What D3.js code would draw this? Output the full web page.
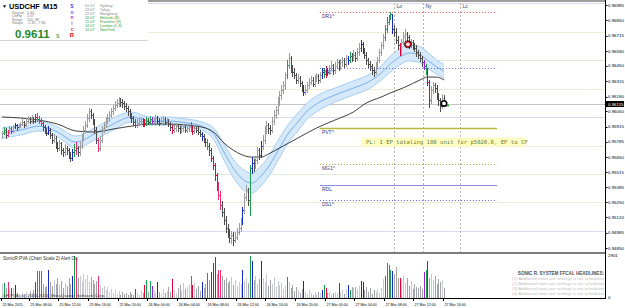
<!DOCTYPE html>
<html>
<head>
<meta charset="utf-8">
<script src="https://cdn.jsdelivr.net/npm/d3@7"></script>
<style>
  body { margin: 0; background: #fff; }
  svg { display: block; font-family: "Liberation Sans", Arial, sans-serif; }
</style>
</head>
<body>
<div id="chart"></div>
<script>
var width = 625,
    height = 308;

// USDCHF M15, 25 Mar 04:15 .. 27 Mar 16:00 (one entry per bar)
var firstOpen = 0.9584;
var closes = [
  0.9586,0.9589,0.9584,0.9587,0.9590,0.9588,0.9591,0.9593,0.9591,0.9592,
  0.9594,0.9596,0.9593,0.9597,0.9598,0.9597,0.9599,0.9597,0.9600,0.9598,
  0.9597,0.9595,0.9591,0.9588,0.9586,0.9589,0.9584,0.9580,0.9582,0.9575,
  0.9573,0.9577,0.9571,0.9569,0.9573,0.9571,0.9567,0.9564,0.9569,0.9571,
  0.9573,0.9569,0.9575,0.9582,0.9589,0.9593,0.9599,0.9605,0.9602,0.9597,
  0.9589,0.9580,0.9573,0.9580,0.9589,0.9593,0.9597,0.9599,0.9602,0.9605,
  0.9608,0.9611,0.9612,0.9615,0.9613,0.9612,0.9610,0.9608,0.9605,0.9602,
  0.9599,0.9596,0.9593,0.9595,0.9597,0.9597,0.9594,0.9595,0.9597,0.9596,
  0.9598,0.9597,0.9597,0.9599,0.9597,0.9595,0.9597,0.9598,0.9596,0.9597,
  0.9594,0.9591,0.9589,0.9590,0.9592,0.9590,0.9588,0.9590,0.9591,0.9589,
  0.9590,0.9592,0.9590,0.9588,0.9590,0.9589,0.9587,0.9585,0.9583,0.9580,
  0.9578,0.9575,0.9571,0.9564,0.9558,0.9549,0.9540,0.9532,0.9523,0.9517,
  0.9510,0.9503,0.9499,0.9494,0.9496,0.9492,0.9495,0.9499,0.9503,0.9508,
  0.9518,0.9530,0.9536,0.9527,0.9555,0.9560,0.9557,0.9562,0.9571,0.9567,
  0.9575,0.9580,0.9589,0.9593,0.9590,0.9589,0.9597,0.9602,0.9606,0.9615,
  0.9619,0.9624,0.9628,0.9637,0.9646,0.9652,0.9643,0.9640,0.9637,0.9633,
  0.9634,0.9630,0.9626,0.9622,0.9624,0.9628,0.9631,0.9633,0.9629,0.9634,
  0.9636,0.9633,0.9637,0.9640,0.9638,0.9641,0.9640,0.9643,0.9646,0.9641,
  0.9645,0.9648,0.9644,0.9648,0.9650,0.9647,0.9652,0.9650,0.9654,0.9652,
  0.9655,0.9652,0.9657,0.9661,0.9664,0.9659,0.9655,0.9650,0.9647,0.9645,
  0.9641,0.9640,0.9645,0.9650,0.9657,0.9663,0.9670,0.9677,0.9684,0.9689,
  0.9691,0.9677,0.9675,0.9668,0.9663,0.9657,0.9666,0.9671,0.9673,0.9670,
  0.9664,0.9666,0.9663,0.9661,0.9657,0.9655,0.9652,0.9648,0.9645,0.9641,
  0.9631,0.9615,0.9624,0.9628,0.9626,0.9619,0.9615,0.9610,0.9617,0.9612
];
var highs = [
  0.9588,0.9591,0.9590,0.9589,0.9592,0.9591,0.9593,0.9595,0.9594,0.9594,
  0.9596,0.9598,0.9597,0.9599,0.9601,0.9600,0.9602,0.9600,0.9603,0.9604,
  0.9601,0.9599,0.9596,0.9593,0.9590,0.9592,0.9590,0.9586,0.9585,0.9583,
  0.9578,0.9580,0.9578,0.9573,0.9576,0.9575,0.9573,0.9569,0.9572,0.9576,
  0.9578,0.9575,0.9578,0.9585,0.9592,0.9597,0.9603,0.9608,0.9607,0.9604,
  0.9598,0.9591,0.9582,0.9583,0.9592,0.9596,0.9600,0.9603,0.9605,0.9608,
  0.9611,0.9614,0.9616,0.9618,0.9617,0.9616,0.9614,0.9612,0.9610,0.9607,
  0.9604,0.9601,0.9598,0.9598,0.9600,0.9600,0.9599,0.9598,0.9600,0.9599,
  0.9601,0.9600,0.9599,0.9602,0.9601,0.9599,0.9600,0.9601,0.9600,0.9599,
  0.9598,0.9596,0.9593,0.9593,0.9595,0.9594,0.9592,0.9593,0.9594,0.9593,
  0.9593,0.9595,0.9596,0.9592,0.9593,0.9592,0.9591,0.9589,0.9587,0.9585,
  0.9582,0.9581,0.9577,0.9573,0.9566,0.9560,0.9551,0.9543,0.9535,0.9526,
  0.9520,0.9513,0.9506,0.9502,0.9500,0.9499,0.9499,0.9503,0.9507,0.9511,
  0.9521,0.9533,0.9540,0.9538,0.9558,0.9565,0.9563,0.9566,0.9574,0.9573,
  0.9579,0.9584,0.9592,0.9597,0.9595,0.9593,0.9600,0.9606,0.9610,0.9618,
  0.9623,0.9628,0.9632,0.9640,0.9650,0.9656,0.9654,0.9646,0.9643,0.9639,
  0.9638,0.9636,0.9632,0.9628,0.9628,0.9631,0.9634,0.9636,0.9635,0.9637,
  0.9639,0.9638,0.9640,0.9643,0.9643,0.9645,0.9643,0.9646,0.9649,0.9647,
  0.9648,0.9651,0.9650,0.9651,0.9653,0.9652,0.9655,0.9654,0.9657,0.9656,
  0.9659,0.9657,0.9661,0.9665,0.9668,0.9666,0.9661,0.9657,0.9652,0.9649,
  0.9647,0.9644,0.9648,0.9653,0.9660,0.9666,0.9673,0.9681,0.9688,0.9690,
  0.9692,0.9690,0.9681,0.9678,0.9671,0.9665,0.9669,0.9675,0.9677,0.9675,
  0.9672,0.9669,0.9668,0.9665,0.9663,0.9659,0.9657,0.9654,0.9650,0.9647,
  0.9643,0.9633,0.9627,0.9631,0.9630,0.9628,0.9621,0.9617,0.9620,0.9619
];
var lows = [
  0.9582,0.9585,0.9582,0.9583,0.9586,0.9586,0.9587,0.9590,0.9589,0.9590,
  0.9591,0.9593,0.9591,0.9592,0.9596,0.9595,0.9596,0.9595,0.9596,0.9597,
  0.9595,0.9593,0.9589,0.9586,0.9584,0.9585,0.9582,0.9577,0.9578,0.9573,
  0.9570,0.9571,0.9568,0.9566,0.9567,0.9568,0.9564,0.9561,0.9562,0.9566,
  0.9568,0.9566,0.9567,0.9573,0.9580,0.9587,0.9591,0.9597,0.9599,0.9594,
  0.9586,0.9577,0.9570,0.9571,0.9578,0.9587,0.9591,0.9595,0.9597,0.9600,
  0.9603,0.9606,0.9609,0.9610,0.9610,0.9609,0.9607,0.9605,0.9602,0.9599,
  0.9596,0.9593,0.9591,0.9591,0.9593,0.9594,0.9592,0.9592,0.9593,0.9594,
  0.9594,0.9595,0.9595,0.9595,0.9595,0.9593,0.9594,0.9595,0.9594,0.9594,
  0.9592,0.9589,0.9586,0.9587,0.9588,0.9588,0.9586,0.9587,0.9588,0.9587,
  0.9587,0.9588,0.9588,0.9585,0.9586,0.9587,0.9585,0.9583,0.9580,0.9578,
  0.9575,0.9572,0.9567,0.9561,0.9554,0.9545,0.9536,0.9528,0.9519,0.9513,
  0.9506,0.9499,0.9495,0.9490,0.9489,0.9488,0.9490,0.9493,0.9497,0.9500,
  0.9506,0.9516,0.9527,0.9523,0.9514,0.9551,0.9553,0.9555,0.9560,0.9563,
  0.9565,0.9572,0.9577,0.9586,0.9586,0.9585,0.9587,0.9594,0.9599,0.9603,
  0.9611,0.9616,0.9621,0.9625,0.9634,0.9643,0.9640,0.9636,0.9634,0.9630,
  0.9630,0.9627,0.9623,0.9619,0.9620,0.9622,0.9626,0.9629,0.9627,0.9627,
  0.9632,0.9630,0.9631,0.9634,0.9635,0.9635,0.9637,0.9638,0.9641,0.9638,
  0.9639,0.9643,0.9641,0.9642,0.9645,0.9644,0.9645,0.9647,0.9648,0.9649,
  0.9650,0.9649,0.9650,0.9655,0.9658,0.9656,0.9652,0.9647,0.9644,0.9641,
  0.9638,0.9636,0.9638,0.9643,0.9648,0.9655,0.9661,0.9668,0.9675,0.9682,
  0.9686,0.9674,0.9671,0.9665,0.9660,0.9655,0.9655,0.9664,0.9668,0.9667,
  0.9661,0.9662,0.9660,0.9658,0.9654,0.9652,0.9649,0.9645,0.9642,0.9638,
  0.9628,0.9609,0.9612,0.9621,0.9622,0.9616,0.9611,0.9605,0.9608,0.9610
];
var volumes = [
  950,1010,680,1080,610,680,680,880,340,270,
  200,340,270,400,200,470,340,540,1080,1820,
  1820,1820,950,740,810,1890,1080,810,1210,950,
  1350,880,1150,680,1010,810,1350,950,1490,2840,
  2700,1350,1490,1150,1620,1280,1550,1080,1420,1210,
  950,1150,1490,880,680,810,540,740,400,610,
  340,540,270,470,200,400,270,340,200,400,
  270,200,610,340,200,470,340,880,1210,400,
  1150,810,540,340,1080,400,270,610,340,470,
  740,400,1280,540,340,680,880,470,1010,610,
  740,950,1490,880,1010,610,810,470,1080,680,
  950,1690,1210,1750,2360,2770,1620,1890,1890,1490,
  1210,1350,1010,1150,1420,880,1210,810,1080,950,
  1890,1150,1350,1010,2840,2500,1210,1490,950,1280,
  2500,1350,1080,1620,810,1210,950,1420,740,1150,
  880,1010,610,810,1420,1080,680,880,470,740,
  540,340,610,1150,400,270,540,340,200,400,
  270,400,340,540,880,680,340,400,270,340,
  400,340,1010,400,540,270,610,880,540,740,
  680,740,610,810,1150,1080,540,740,400,680,
  270,540,400,610,340,680,1280,1490,2360,2230,
  1890,1820,1620,2090,1350,1350,1210,1490,1010,1350,
  810,1150,610,950,740,680,810,610,1750,1890,
  2500,1350,1620,1210,1490,950,1280,1080,1150,680
];
// SonicR PVA class per bar: . normal, g climax up, r climax down, b rising up, p rising down, v climax neutral
var pvaClass = (
  ".g.p.v.b.." + "........rg" + "pp...b...." + "........bg" + "p........." +
  "..p......." + ".........." + "..v....rg." + "gv..b....." + "..r......." +
  "..gr....b." + ".g.rrr.pp." + ".........." + "b...gb...." + "b........." +
  "....g....." + "...b......" + "...bgr...." + "..r....bg." + "....bb...." +
  ".......ggg" + "gb...r...." + "........vg" + "r........."
).split("");

var timeLabels = ["25 Mar 2015","25 Mar 08:00","25 Mar 12:00","25 Mar 16:00","25 Mar 20:00",
  "26 Mar 00:00","26 Mar 04:00","26 Mar 08:00","26 Mar 12:00","26 Mar 16:00","26 Mar 20:00",
  "27 Mar 00:00","27 Mar 04:00","27 Mar 08:00","27 Mar 12:00","27 Mar 16:00"];
var timeBars = [0,15,31,47,63,79,95,111,127,143,159,175,191,207,223,239];

var priceTicks = [0.96985,0.96850,0.96715,0.96580,0.96450,0.96315,0.96180,0.96050,0.95915,
  0.95785,0.95650,0.95515,0.95385,0.95250,0.95120,0.94985,0.94850];
var bidPrice = 0.96115;
var roundLevels = [0.9700,0.9675,0.9650,0.9625,0.9600,0.9575,0.9550,0.9525,0.9500];

// slow EMA (black line)
var emaBars = [0,10,20,30,40,50,60,70,80,90,100,110,115,120,125,130,135,140,145,150,155,160,170,180,190,197,205,210,218,226,230,235,239];
var emaValues = [0.96001,0.95992,0.95974,0.95939,0.95878,0.95869,0.95895,0.95921,0.95939,0.95939,
  0.95930,0.95904,0.95860,0.95772,0.95710,0.95667,0.95649,0.95649,0.95684,0.95728,0.95772,
  0.95816,0.95904,0.95974,0.96045,0.96124,0.96176,0.96212,0.96264,0.96326,0.96352,0.96352,0.96326];

// dragon band (EMA34 of high / close / low)
var bandBars = [0,10,20,30,40,50,60,70,80,90,100,108,115,120,125,130,135,140,145,150,155,160,165,170,180,190,200,205,210,215,220,225,230,235,239];
var bandHigh = [0.95904,0.95930,0.95965,0.95913,0.95834,0.95904,0.95992,0.96045,0.96001,0.96001,
  0.95983,0.95957,0.95895,0.95763,0.95631,0.95543,0.95508,0.95570,0.95675,0.95816,0.95939,
  0.96036,0.96124,0.96185,0.96255,0.96317,0.96387,0.96449,0.96537,0.96598,0.96633,0.96625,
  0.96572,0.96502,0.96466];
var bandMid = [0.95860,0.95886,0.95921,0.95869,0.95781,0.95851,0.95939,0.96001,0.95965,0.95965,
  0.95948,0.95921,0.95842,0.95693,0.95552,0.95456,0.95420,0.95482,0.95587,0.95728,0.95860,
  0.95957,0.96053,0.96115,0.96194,0.96255,0.96326,0.96387,0.96466,0.96528,0.96563,0.96554,
  0.96502,0.96440,0.96405];
var bandLow = [0.95816,0.95842,0.95878,0.95825,0.95728,0.95798,0.95886,0.95957,0.95930,0.95930,
  0.95913,0.95886,0.95790,0.95623,0.95473,0.95368,0.95333,0.95394,0.95500,0.95640,0.95781,
  0.95878,0.95983,0.96045,0.96132,0.96194,0.96264,0.96326,0.96396,0.96458,0.96493,0.96484,
  0.96431,0.96379,0.96343];

var pivotNames = ["DR1^","PR1^","PVT^","MG1^","RDL","DS1^"];
var pivotValues = [0.96924,0.96431,0.95904,0.95587,0.95403,0.95271];
var pivotFrom = 171.9, pivotTo = 267.7;

var sessionNames = ["Lo","Ny","Lc"];
var sessionBars = [212, 227.6, 247.6];

var sessionCities = ["Sydney","Tokyo","Hongkong","Helsinki (B)","Frankfurt (F)","London (L,S)","NewYork"];
var sessionTimes = ["01:07","23:07","22:07","16:07","15:07","14:07","10:07"];
var cityOpen = [false,false,false,true,true,true,true];

var statNames = ["Spread","LotFlp","Range","Swaps"];
var statValues = ["2.60","0.07","150, 88","-1.36, -7.86"];

var signalBars = [219.5, 239];
var signalPrices = [0.9664, 0.9612];

var headlines = [
  "(1) Additional news per settings is not scheduled",
  "(2) Additional news per settings is not scheduled",
  "(3) Additional news per settings is not scheduled",
  "(4) Additional news per settings is not scheduled"
];

var svg = d3.select("#chart")
  .append("svg")
  .attr("width", width)
  .attr("height", height);

var x = d3.scaleLinear().domain([0, 239]).range([2, 444]);
var y = d3.scaleLinear().domain([0.96985, 0.94850]).range([5, 248]);
var yv = d3.scaleLinear().domain([0, 2901]).range([298, 255]);

function px(i) { return Math.round(x(i)) + 0.5; }
function py(p) { return Math.round(y(p)) + 0.5; }

var pvaColors = { g: "#19a04c", r: "#e6003a", b: "#1428cc", p: "#ea2f6c", v: "#9420ee" };

svg.append("clipPath").attr("id", "main-clip")
  .append("rect").attr("x", 0).attr("y", 2).attr("width", 605).attr("height", 250);

var main = svg.append("g").attr("clip-path", "url(#main-clip)");

// round-number levels
main.selectAll(".level")
  .data(roundLevels)
  .enter().append("line")
  .attr("x1", 0).attr("x2", 605)
  .attr("y1", py).attr("y2", py)
  .attr("stroke", function(d, i) {
    if (i % 4 == 0) return "#dadaf4";
    if (i % 4 == 2) return "#dcefd6";
    return "#efecd6";
  });

main.append("line")
  .attr("x1", 0).attr("x2", 605)
  .attr("y1", py(bidPrice)).attr("y2", py(bidPrice))
  .attr("stroke", "#c4c4c4");

// session separators
sessionBars.forEach(function(b, k) {
  main.append("line")
    .attr("x1", px(b)).attr("x2", px(b))
    .attr("y1", 3).attr("y2", 252)
    .attr("stroke", "#b4b4b4")
    .attr("stroke-dasharray", "2,2");
  svg.append("text")
    .attr("x", px(b) + 2).attr("y", 8)
    .attr("font-size", 5).attr("fill", "#404060")
    .text(sessionNames[k]);
});

// dragon band
var bandPts = bandBars.map(function(b, i) { return { b: b, h: bandHigh[i], m: bandMid[i], l: bandLow[i] }; });
main.append("path")
  .datum(bandPts)
  .attr("d", d3.area().curve(d3.curveMonotoneX)
    .x(function(d) { return x(d.b); })
    .y0(function(d) { return y(d.l); })
    .y1(function(d) { return y(d.h); }))
  .attr("fill", "#d6e9fb");
["h", "l"].forEach(function(k) {
  main.append("path")
    .datum(bandPts)
    .attr("d", d3.line().curve(d3.curveMonotoneX)
      .x(function(d) { return x(d.b); })
      .y(function(d) { return y(d[k]); }))
    .attr("fill", "none").attr("stroke", "#a6cff3").attr("stroke-width", 1);
});
main.append("path")
  .datum(bandPts)
  .attr("d", d3.line().curve(d3.curveMonotoneX)
    .x(function(d) { return x(d.b); })
    .y(function(d) { return y(d.m); }))
  .attr("fill", "none").attr("stroke", "#4f97e6").attr("stroke-width", 0.7);

// slow EMA
main.append("path")
  .datum(emaBars.map(function(b, i) { return [b, emaValues[i]]; }))
  .attr("d", d3.line().curve(d3.curveMonotoneX)
    .x(function(d) { return x(d[0]); })
    .y(function(d) { return y(d[1]); }))
  .attr("fill", "none").attr("stroke", "#2a2a2a").attr("stroke-width", 0.9);

// price bars (HLOC)
var bars = closes.map(function(c, i) {
  return { i: i, o: i ? closes[i - 1] : firstOpen, h: highs[i], l: lows[i], c: c, k: pvaClass[i] };
});
function barColor(d) {
  if (d.k != ".") return pvaColors[d.k];
  return d.c >= d.o ? "#9c9c9c" : "#4c4c4c";
}
var barG = main.append("g").attr("shape-rendering", "crispEdges");
bars.forEach(function(d) {
  var cx = px(d.i);
  var col = barColor(d);
  barG.append("line")
    .attr("x1", cx).attr("x2", cx)
    .attr("y1", Math.round(y(d.h))).attr("y2", Math.round(y(d.l)) + 1)
    .attr("stroke", col);
  barG.append("line")
    .attr("x1", cx - 1).attr("x2", cx)
    .attr("y1", py(d.o)).attr("y2", py(d.o))
    .attr("stroke", col);
  barG.append("line")
    .attr("x1", cx).attr("x2", cx + 1)
    .attr("y1", py(d.c)).attr("y2", py(d.c))
    .attr("stroke", col);
});

// daily pivot levels
var pivotStyle = [
  { c: "#ff4a4a", dash: "1,2", w: 1 },
  { c: "#6e6ef4", dash: "1,2", w: 1 },
  { c: "#b8b83c", dash: null, w: 1.3 },
  { c: "#aaa030", dash: "1,2", w: 1 },
  { c: "#8a8ae6", dash: null, w: 1.2 },
  { c: "#5a5af0", dash: "1,2", w: 1 }
];
pivotValues.forEach(function(v, k) {
  main.append("line")
    .attr("x1", x(pivotFrom)).attr("x2", x(pivotTo))
    .attr("y1", py(v)).attr("y2", py(v))
    .attr("stroke", pivotStyle[k].c)
    .attr("stroke-width", pivotStyle[k].w)
    .attr("stroke-dasharray", pivotStyle[k].dash);
  main.append("text")
    .attr("x", x(pivotFrom) + 2).attr("y", py(v) + 5)
    .attr("font-size", 5).attr("fill", "#3a3a7a")
    .text(pivotNames[k]);
});

// position note
svg.append("rect")
  .attr("x", 362).attr("y", 137.5).attr("width", 164).attr("height", 9)
  .attr("fill", "#ffffc4");
svg.append("text")
  .attr("x", 366).attr("y", 144.2)
  .attr("font-family", "'DejaVu Sans Mono', monospace")
  .attr("font-size", 5.6).attr("fill", "#5c7c3c")
  .text("PL: 1 EP totaling 100 unit for p5020.0, EP to CP");

// signal markers
svg.append("circle")
  .attr("cx", x(signalBars[0])).attr("cy", y(signalPrices[0])).attr("r", 2.6)
  .attr("fill", "#fff").attr("stroke", "#e00010").attr("stroke-width", 1.5);
svg.append("circle")
  .attr("cx", x(signalBars[0])).attr("cy", y(signalPrices[0])).attr("r", 3.6)
  .attr("fill", "none").attr("stroke", "#000").attr("stroke-width", 0.7);
svg.append("circle")
  .attr("cx", x(signalBars[1])).attr("cy", y(signalPrices[1])).attr("r", 2.7)
  .attr("fill", "#fff").attr("stroke", "#000").attr("stroke-width", 1.6);
svg.append("rect")
  .attr("x", x(signalBars[1]) + 3).attr("y", y(signalPrices[1]) + 1)
  .attr("width", 2).attr("height", 2).attr("fill", "#20b020");

// frame
svg.append("line").attr("x1", 0).attr("x2", 606).attr("y1", 1).attr("y2", 1)
  .attr("stroke", "#7c7c7c").attr("stroke-width", 1.5);
svg.append("line").attr("x1", 0).attr("x2", 606).attr("y1", 253).attr("y2", 253)
  .attr("stroke", "#7c7c7c").attr("stroke-width", 2.2);
svg.append("line").attr("x1", 605.5).attr("x2", 605.5).attr("y1", 0).attr("y2", 299)
  .attr("stroke", "#000");
svg.append("line").attr("x1", 0).attr("x2", 606).attr("y1", 298.5).attr("y2", 298.5)
  .attr("stroke", "#000");

// price axis
var yAxis = svg.append("g").attr("font-size", 4.4);
priceTicks.forEach(function(p) {
  yAxis.append("line").attr("x1", 605).attr("x2", 607.5)
    .attr("y1", py(p)).attr("y2", py(p)).attr("stroke", "#000");
  yAxis.append("text").attr("x", 608).attr("y", y(p) + 1.6).attr("fill", "#000")
    .text(p.toFixed(5));
});
yAxis.append("rect").attr("x", 606).attr("y", y(bidPrice) - 3).attr("width", 18).attr("height", 6)
  .attr("fill", "#000");
yAxis.append("text").attr("x", 608).attr("y", y(bidPrice) + 1.6).attr("fill", "#fff")
  .text(bidPrice.toFixed(5));

// volume window
var volG = svg.append("g").attr("shape-rendering", "crispEdges");
bars.forEach(function(d) {
  var col = d.k != "." ? pvaColors[d.k] : (d.c >= d.o ? "#c8c8d0" : "#a2a2aa");
  volG.append("line")
    .attr("x1", px(d.i)).attr("x2", px(d.i))
    .attr("y1", yv(0)).attr("y2", Math.round(yv(volumes[d.i])))
    .attr("stroke", col).attr("stroke-width", d.k != "." ? 1.4 : 1);
});
svg.append("text").attr("x", 608).attr("y", yv(2901) + 2).attr("font-size", 4.4).text("2901");
svg.append("text").attr("x", 608).attr("y", yv(0) + 1).attr("font-size", 4.4).text("0");

svg.append("text").attr("x", 3).attr("y", 259.5).attr("font-size", 4.6).attr("fill", "#303030")
  .text("SonicR PVA  (Chart Scale 2)  Alert On");
svg.append("text").attr("x", 3).attr("y", 296.5).attr("font-size", 4.4).attr("fill", "#404040")
  .text("SR PVA. (c) 2001-2015, MetaQuotes Software Corp.");

svg.append("text").attr("x", 604).attr("y", 274.5).attr("text-anchor", "end")
  .attr("font-size", 4.6).attr("font-weight", "bold").attr("fill", "#505050")
  .text("SONIC R. SYSTEM  FFCAL HEADLINES:");
headlines.forEach(function(h, k) {
  svg.append("text").attr("x", 604).attr("y", 280 + k * 5).attr("text-anchor", "end")
    .attr("font-size", 4.3).attr("fill", "#c0c0c0").text(h);
});

// time axis
timeBars.forEach(function(b, k) {
  svg.append("line").attr("x1", px(b) - 1).attr("x2", px(b) - 1).attr("y1", 298).attr("y2", 301)
    .attr("stroke", "#000");
  svg.append("text").attr("x", px(b)).attr("y", 305.5).attr("font-size", 3.6).attr("fill", "#000")
    .text(timeLabels[k]);
});

// info panel
var info = svg.append("g");
info.append("rect").attr("x", 0).attr("y", 0).attr("width", 148).attr("height", 40)
  .attr("fill", "#fff");
info.append("line").attr("x1", 0).attr("x2", 148).attr("y1", 40.5).attr("y2", 40.5)
  .attr("stroke", "#d4d4d4");
info.append("text").attr("x", 2).attr("y", 8).attr("font-size", 5).text("\u25BC");
info.append("text").attr("x", 9).attr("y", 9).attr("font-size", 7.4).attr("font-weight", "bold")
  .text("USDCHF");
info.append("text").attr("x", 43).attr("y", 9).attr("font-size", 7.4).attr("font-weight", "bold")
  .text("M15");
statNames.forEach(function(s, k) {
  info.append("text").attr("x", 12).attr("y", 14 + k * 3.4).attr("font-size", 3.6).attr("fill", "#7a7a7a").text(s);
  info.append("text").attr("x", 27).attr("y", 14 + k * 3.4).attr("font-size", 3.6).attr("fill", "#7a7a7a").text(statValues[k]);
});
info.append("text").attr("x", 15).attr("y", 37.5).attr("font-size", 11.5).attr("font-weight", "bold")
  .attr("fill", "#1f8a2a").text("0.9611");
info.append("text").attr("x", 56).attr("y", 37.5).attr("font-size", 6).attr("fill", "#1f8a2a").text("9");

var sonicLetters = ["S", "o", "n", "i", "c", "R"];
var sonicColors = ["#2040e6", "#3c5cf0", "#7a48d0", "#b844b0", "#e02858", "#e8001c"];
var sonicY = [7.8, 13.5, 19.2, 24.9, 30.6, 37];
sonicLetters.forEach(function(s, k) {
  info.append("text").attr("x", 72).attr("y", sonicY[k]).attr("text-anchor", "middle")
    .attr("font-size", k == 5 ? 6 : 4.9).attr("font-weight", "bold")
    .attr("fill", sonicColors[k]).text(s);
});
sessionCities.forEach(function(c, k) {
  var col = cityOpen[k] ? "#32a032" : "#8a8a8a";
  info.append("text").attr("x", 85).attr("y", 6.5 + k * 4).attr("font-size", 3.8).attr("fill", col)
    .text(sessionTimes[k]);
  info.append("text").attr("x", 100).attr("y", 6.5 + k * 4).attr("font-size", 3.8).attr("fill", col)
    .text(c);
});
</script>
</body>
</html>
